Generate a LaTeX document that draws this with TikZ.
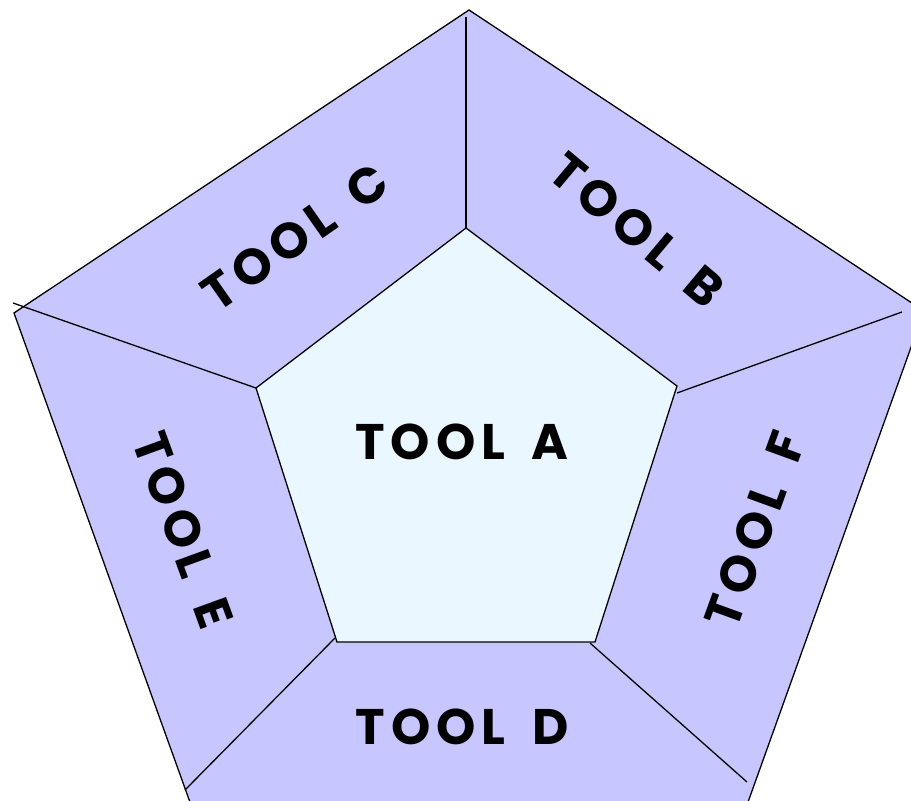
\documentclass[tikz,border=0pt]{standalone}
\usepackage{fontspec}
\setmainfont{Poppins}
\newfontfamily\toolfont[LetterSpace=12, WordSpace=1.6]{Poppins}
\definecolor{ringfill}{RGB}{200,198,255}
\definecolor{corefill}{RGB}{235,247,255}
\tikzset{
  edge/.style={line width=1.3pt, line join=miter},
  tool/.style={font=\toolfont\fontsize{50}{58}\selectfont\bfseries, inner sep=0pt}
}
\begin{document}
\begin{tikzpicture}[x=1pt, y=-1pt]
  \useasboundingbox (0,0) rectangle (911,801);
  \clip (0,0) rectangle (911,801);

  % outer ring corners
  \coordinate (P1) at (469,10);
  \coordinate (P2) at (924,311);
  \coordinate (P3) at (738,830);
  \coordinate (P4) at (200,830);
  \coordinate (P5) at (14,313);

  % inner pentagon corners
  \coordinate (I1) at (466,228);
  \coordinate (I2) at (677,386);
  \coordinate (I3) at (595,642);
  \coordinate (I4) at (337,642);
  \coordinate (I5) at (256,388);

  % spoke ends
  \coordinate (S1) at (466,17);
  \coordinate (S2) at (902,312);
  \coordinate (S3) at (747,782);
  \coordinate (S4) at (185,790);
  \coordinate (S5) at (13,303);

  \fill[ringfill] (P1) -- (P2) -- (P3) -- (P4) -- (P5) -- cycle;
  \draw[edge] (P1) -- (P2) -- (P3) -- (P4) -- (P5) -- cycle;
  \filldraw[edge, fill=corefill] (I1) -- (I2) -- (I3) -- (I4) -- (I5) -- cycle;

  \draw[edge] (I1) -- (S1);
  \draw[edge] (677,393) -- (S2);
  \draw[edge] (590,643) -- (S3);
  \draw[edge] (335,638) -- (S4);
  \draw[edge] (I5) -- (S5);

  \node[tool] (toolA) at (462,442) {TOOL A};
  \node[tool, rotate=-40] (toolB) at (637,230) {TOOL B};
  \node[tool, rotate=35] (toolC) at (295,237) {TOOL C};
  \node[tool] (toolD) at (462,727) {TOOL D};
  \node[tool, rotate=-70] (toolE) at (183,530) {TOOL E};
  \node[tool, rotate=70] (toolF) at (755,530) {TOOL F};
\end{tikzpicture}
\end{document}
